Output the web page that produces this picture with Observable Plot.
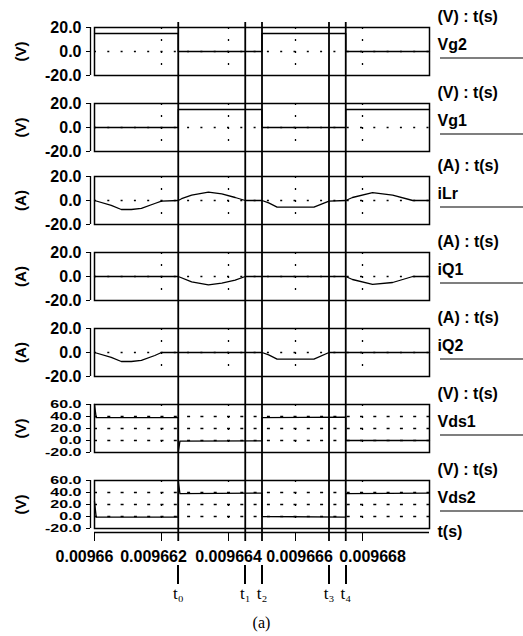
<!DOCTYPE html>
<html><head><meta charset="utf-8">
<script src="https://cdn.jsdelivr.net/npm/d3@7"></script>
<script src="https://cdn.jsdelivr.net/npm/@observablehq/plot@0.6"></script>
<style>
body{margin:0;background:#fff;color:#000;}
#chart{position:relative;width:523px;height:636px;background:#fff;overflow:hidden;}
#chart svg{position:absolute;left:0;}
#caption{position:absolute;left:0;width:523px;top:614px;text-align:center;font-family:"Liberation Serif","Times New Roman",serif;font-size:16px;color:#000;}
</style></head><body><div id="chart"><div id="caption">(a)</div></div>
<script>
// ---------- data ----------
const xDomain = [0.00966, 0.00967];
const xTicks = [0.00966, 0.009662, 0.009664, 0.009666, 0.009668];
const xTickLabels = ["0.00966", "0.009662", "0.009664", "0.009666", "0.009668"];
const xGridTicks = [0.009662, 0.009664, 0.009666, 0.009668];
const markerTimes = [0.0096625, 0.0096645, 0.009665, 0.009667, 0.0096675];
const markerLabels = ["t\u2080", "t\u2081", "t\u2082", "t\u2083", "t\u2084"];
const panelNames = ["Vg2", "Vg1", "iLr", "iQ1", "iQ2", "Vds1", "Vds2"];
const panelUnits = ["V", "V", "A", "A", "A", "V", "V"];
const smallTicks = [-20, 0, 20];
const largeTicks = [-20, 0, 20, 40, 60];
const smallGrid = [0];
const largeGrid = [0, 20, 40];

const vgTime = [0.00966, 0.0096625, 0.009665, 0.0096675, 0.00967];
const vg2Value = [15, 0, 15, 0, 0];
const vg1Value = [0, 15, 0, 15, 15];

const iLrTime = [0.00966, 0.0096605, 0.0096608, 0.0096611, 0.0096614, 0.0096618, 0.009662, 0.0096625, 0.0096626, 0.0096629, 0.0096634, 0.0096638, 0.0096642, 0.0096645, 0.009665, 0.0096652, 0.00966545, 0.00966655, 0.009667, 0.0096675, 0.0096677, 0.0096683, 0.0096689, 0.0096695, 0.00967];
const iLrValue = [0, -4, -7.5, -7.5, -6.5, -2.5, -0.5, 0, 1.5, 4.5, 7, 5.5, 2.5, 0, 0, -2, -5.5, -5.5, -0.5, 0, 2.5, 6.5, 4.5, 0, 0];

const iQ1Time = [0.00966, 0.0096625, 0.0096629, 0.0096634, 0.0096638, 0.0096642, 0.0096645, 0.0096675, 0.0096677, 0.0096683, 0.0096689, 0.0096695, 0.00967];
const iQ1Value = [0, 0, -4.5, -7, -5.5, -3, 0, 0, -2.5, -6.5, -5, 0, 0];

const iQ2Time = [0.00966, 0.0096605, 0.0096608, 0.0096611, 0.0096614, 0.0096618, 0.009662, 0.009665, 0.0096652, 0.00966545, 0.00966655, 0.009667, 0.00967];
const iQ2Value = [0, -4, -7.5, -7.5, -6.5, -2.5, 0, 0, -2, -5.5, -5.5, 0, 0];

const vds1Time = [0.00966, 0.00966005, 0.0096625, 0.0096625, 0.00966255, 0.009665, 0.009665, 0.0096675, 0.0096675, 0.00967];
const vds1Value = [60, 38, 38, -20, -1, -0.5, 38, 39, 0, 0];

const vds2Time = [0.00966, 0.00966005, 0.0096625, 0.0096625, 0.00966255, 0.009665, 0.009665, 0.0096675, 0.0096675, 0.00967];
const vds2Value = [25, -1, -1, 60, 38, 39, 0, -1, 38, 39];

// ---------- layout ----------
const W = 523, ML = 94, MR = 94;
const panelTops = [27, 103, 175.5, 251.5, 327.5, 403.5, 479.5];
const xLabelShift = [-10, -8, 0, 4, 10];
const FRAME_H = 48, MT = 24;
const FONT = "'Liberation Sans', Arial, Helvetica, sans-serif";
const chart = document.getElementById("chart");

const series = [
  {time: vgTime, value: vg2Value, curve: "step-after", ticks: smallTicks, grid: smallGrid},
  {time: vgTime, value: vg1Value, curve: "step-after", ticks: smallTicks, grid: smallGrid},
  {time: iLrTime, value: iLrValue, curve: "linear", ticks: smallTicks, grid: smallGrid},
  {time: iQ1Time, value: iQ1Value, curve: "linear", ticks: smallTicks, grid: smallGrid},
  {time: iQ2Time, value: iQ2Value, curve: "linear", ticks: smallTicks, grid: smallGrid},
  {time: vds1Time, value: vds1Value, curve: "linear", ticks: largeTicks, grid: largeGrid},
  {time: vds2Time, value: vds2Value, curve: "linear", ticks: largeTicks, grid: largeGrid}
];

function separator() {
  return (index, scales, values, dims) => {
    const y = dims.marginTop + 31;
    return d3.create("svg:line")
      .attr("x1", dims.width - dims.marginRight + 11).attr("x2", dims.width)
      .attr("y1", y).attr("y2", y)
      .attr("stroke", "#000").attr("stroke-width", 1.2).node();
  };
}

series.forEach((s, k) => {
  const last = k === series.length - 1;
  const dense = s.ticks.length > 3;
  const MB = last ? 42 : 4;
  const data = s.time.map((t, i) => ({t, v: s.value[i]}));
  const unit = panelUnits[k];
  const marks = [
    Plot.ruleY(s.grid, {stroke: "#000", strokeWidth: 1.3, strokeDasharray: dense ? "3,10.3" : "2,11.3"}),
    Plot.ruleX(xGridTicks, {stroke: "#000", strokeWidth: 1.3, strokeDasharray: "2,10"}),
    Plot.line(data, {x: "t", y: "v", curve: s.curve, stroke: "#000", strokeWidth: 1.3}),
    Plot.frame({stroke: "#000", strokeWidth: 1.5}),
    Plot.ruleX([xDomain[0]], {dx: -4, stroke: "#000", strokeWidth: 1.3}),
    Plot.axisY(s.ticks, {tickSize: 4, dx: -4, tickPadding: 5, tickFormat: d => d.toFixed(1), fontSize: 16, fontWeight: "bold", label: null, stroke: "#000", fill: "#000"}),
    Plot.text([`(${unit})`], {text: d => d, frameAnchor: "left", dx: -73, rotate: -90, textAnchor: "middle", fontSize: 15, fontWeight: "bold", fill: "#000"}),
    Plot.text([`(${unit}) : t(s)`], {text: d => d, frameAnchor: "top-right", dx: 8, dy: -17, textAnchor: "start", fontSize: 16, fontWeight: "bold", fill: "#000"}),
    Plot.text([panelNames[k]], {text: d => d, frameAnchor: "top-right", dx: 8, dy: 11, textAnchor: "start", fontSize: 16, fontWeight: "bold", fill: "#000"}),
    separator()
  ];
  if (last) {
    marks.push(
      Plot.ruleY([s.ticks[0]], {dy: 4, stroke: "#000", strokeWidth: 1.3}),
      Plot.axisX(xTicks, {tickSize: 9, dy: 4, tickFormat: () => "", label: null, stroke: "#000"}),
      ...xTicks.map((t, i) => Plot.text([t], {x: d => d, text: () => xTickLabels[i], frameAnchor: "bottom", lineAnchor: "top", dy: 22, dx: xLabelShift[i], fontSize: 16, fontWeight: "bold", fill: "#000"})),
      Plot.text(["t(s)"], {text: d => d, frameAnchor: "bottom-right", dx: 8, dy: 8, textAnchor: "start", fontSize: 16, fontWeight: "bold", fill: "#000"})
    );
  }
  const p = Plot.plot({
    width: W, height: MT + FRAME_H + MB,
    marginTop: MT, marginBottom: MB, marginLeft: ML, marginRight: MR,
    x: {domain: xDomain, axis: null},
    y: {domain: [s.ticks[0], s.ticks[s.ticks.length - 1]], axis: null},
    style: {background: "transparent", fontFamily: FONT, color: "#000", overflow: "visible"},
    marks
  });
  if (dense) {
    // the dense 5-tick axis labels are squashed vertically, as in the original
    p.querySelectorAll('g[aria-label="y-axis tick label"] text').forEach(el => {
      const tr = el.getAttribute("transform");
      if (tr) el.setAttribute("transform", tr + " scale(1,0.72)");
    });
  }
  p.style.top = (panelTops[k] - MT) + "px";
  chart.appendChild(p);
});

// vertical time-instant lines across all panels
const lines = Plot.plot({
  width: W, height: 636, marginTop: 22, marginBottom: 95, marginLeft: ML, marginRight: MR,
  x: {domain: xDomain, axis: null},
  style: {background: "transparent", fontFamily: FONT, color: "#000", overflow: "visible"},
  marks: [Plot.ruleX(markerTimes, {stroke: "#000", strokeWidth: 1.8})]
});
lines.style.top = "0px";
chart.appendChild(lines);

// markers and labels t0..t4
const markers = Plot.plot({
  width: W, height: 636, marginTop: 565, marginBottom: 52, marginLeft: ML, marginRight: MR,
  x: {domain: xDomain, axis: null},
  style: {background: "transparent", fontFamily: "'Liberation Serif','DejaVu Serif','Times New Roman',serif", color: "#000", overflow: "visible"},
  marks: [
    Plot.ruleX(markerTimes, {stroke: "#000", strokeWidth: 2, shapeRendering: "crispEdges"}),
    Plot.text(markerTimes, {x: d => d, text: (d, i) => markerLabels[i], frameAnchor: "bottom", dy: 14, fontSize: 17, fill: "#000", stroke: "#fff", strokeWidth: 0.01})
  ]
});
markers.style.top = "0px";
chart.appendChild(markers);
</script></body></html>
